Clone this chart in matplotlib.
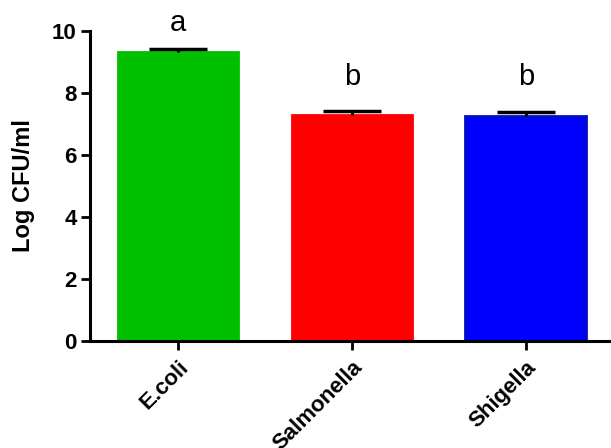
import matplotlib
matplotlib.use("Agg")
import matplotlib.pyplot as plt

# Bacterial counts per organism
categories = ["E.coli", "Salmonella", "Shigella"]
means = [9.32, 7.28, 7.27]
errors = [0.10, 0.13, 0.13]
letters = ["a", "b", "b"]
letter_heights = [10.0, 8.26, 8.26]
yticks = [0, 2, 4, 6, 8, 10]

fill_colors = ["#00C000", "#FF0000", "#0000FF"]
edge_colors = ["#00C000", "#FF0000", "#0010C0"]

plt.rcParams["font.family"] = ["Liberation Sans", "DejaVu Sans"]

fig = plt.figure(figsize=(6.11, 4.48), dpi=100)
ax = fig.add_axes([0.1473, 0.2388, 0.851, 0.692])

x = list(range(len(categories)))
ax.bar(x, means, width=0.695, color=fill_colors, edgecolor=edge_colors,
       linewidth=2, zorder=2)

# upper-only error bars: hide the cap at the lower end
_, caps, _ = ax.errorbar(x, means, yerr=[[0] * len(errors), errors],
                         fmt="none", ecolor="black", elinewidth=2.2,
                         capsize=21, capthick=2.5, zorder=3)
for cap in caps:
    if list(cap.get_ydata()) == list(means):
        cap.set_visible(False)

for xi, lab, h in zip(x, letters, letter_heights):
    ax.text(xi, h, lab, ha="center", va="baseline", fontsize=21)

ax.set_xlim(-0.506, 2.483)
ax.set_ylim(0, 10)
ax.set_yticks(yticks)
ax.set_xticks(x)
ax.set_xticklabels(categories, rotation=45, ha="right", va="top",
                   rotation_mode="anchor", fontsize=16, fontweight="bold")
for t in ax.get_yticklabels():
    t.set_fontsize(16)
    t.set_fontweight("bold")

ax.set_ylabel("Log CFU/ml", fontsize=17, fontweight="bold", labelpad=12)

for side in ["top", "right"]:
    ax.spines[side].set_visible(False)
for side in ["left", "bottom"]:
    ax.spines[side].set_linewidth(2.2)
ax.tick_params(axis="both", direction="out", length=6.5, width=2, pad=3)
ax.tick_params(axis="x", pad=5)

fig.savefig("out.png", dpi=100)
